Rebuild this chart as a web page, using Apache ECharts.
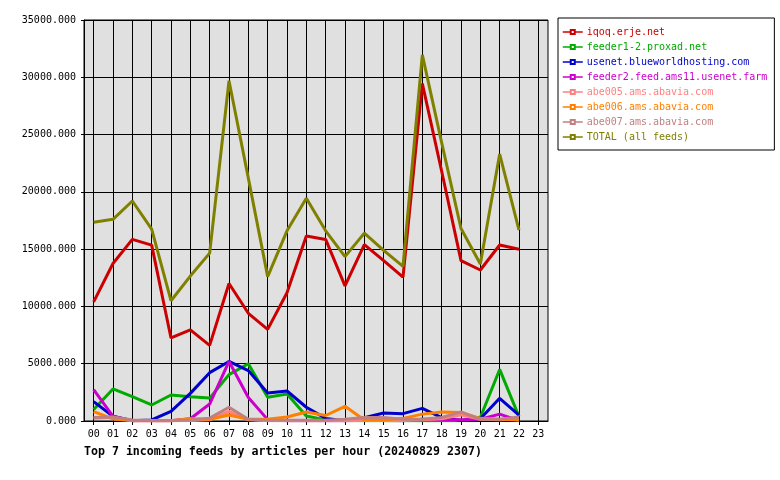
<!DOCTYPE html>
<html><head><meta charset="utf-8">
<script src="https://cdn.jsdelivr.net/npm/echarts@6/dist/echarts.min.js"></script>
<style>html,body{margin:0;padding:0;background:#fff}#c{width:780px;height:480px}</style>
</head><body><div id="c"></div>
<script>
const hours = ['00','01','02','03','04','05','06','07','08','09','10','11','12','13','14','15','16','17','18','19','20','21','22','23'];
const seriesNames = ['iqoq.erje.net','feeder1-2.proxad.net','usenet.blueworldhosting.com','feeder2.feed.ams11.usenet.farm','abe005.ams.abavia.com','abe006.ams.abavia.com','abe007.ams.abavia.com','TOTAL (all feeds)'];
const seriesColors = ['#cc0000','#00aa00','#0000cc','#cc00cc','#ff8080','#ff8000','#c08080','#808000'];
const iqoq = [10400,13750,15850,15350,7250,7950,6600,12000,9400,8000,11200,16150,15850,11800,15400,14000,12550,29450,21800,14000,13180,15360,14990];
const feeder1 = [1000,2800,2120,1400,2270,2120,2000,4050,5000,2065,2360,440,100,50,30,30,30,30,30,30,300,4500,380];
const usenetBlue = [1690,420,30,90,840,2410,4220,5200,4400,2450,2620,1200,230,30,290,700,640,1100,300,50,200,1980,520];
const feeder2 = [2730,400,30,20,20,200,1480,5200,2050,120,30,20,20,20,80,50,20,150,100,100,150,600,30];
const abe005 = [250,300,50,30,30,50,100,850,100,30,30,30,30,30,50,50,50,100,200,550,150,100,150];
const abe006 = [815,180,30,20,20,200,150,520,145,145,350,780,480,1280,90,90,230,600,790,750,230,145,90];
const abe007 = [300,350,90,50,50,80,250,1200,150,60,60,60,60,150,300,300,150,150,300,800,150,150,350];
const total = [17350,17600,19200,16750,10500,12650,14650,29700,21200,12600,16600,19450,16600,14350,16400,14900,13500,31950,24300,16800,13700,23300,16650];
const yTicks = [0,5000,10000,15000,20000,25000,30000,35000];
const titleText = 'Top 7 incoming feeds by articles per hour (20240829 2307)';

const allData = [iqoq, feeder1, usenetBlue, feeder2, abe005, abe006, abe007, total];
const FONT = 'DejaVu Sans Mono';

const chart = echarts.init(document.getElementById('c'), null, {renderer:'canvas'});
chart.setOption({
  animation: false,
  backgroundColor: '#ffffff',
  title: {
    text: titleText, left: 84, top: 446, padding: 0,
    textStyle: {fontFamily: FONT, fontSize: 11.6, fontWeight: 'bold', color: '#000'}
  },
  legend: {
    orient: 'vertical', left: 558, top: 18,
    padding: [9, 7, 8, 4],
    borderColor: '#000', borderWidth: 1, backgroundColor: '#fff',
    itemWidth: 20, itemHeight: 5, itemGap: 5,
    lineStyle: {width: 1.5},
    data: seriesNames.map((n, i) => ({name: n, textStyle: {color: seriesColors[i]}})),
    textStyle: {fontFamily: FONT, fontSize: 10, lineHeight: 10, padding: [0,0,0,-1]}
  },
  grid: {
    left: 84, right: 232, top: 20, bottom: 59,
    show: true, backgroundColor: '#e0e0e0', borderColor: '#000', borderWidth: 1
  },
  xAxis: {
    type: 'category', data: hours, boundaryGap: true,
    axisLine: {show: true, lineStyle: {color: '#000', width: 1}},
    axisTick: {show: true, alignWithLabel: true, length: 4, lineStyle: {color: '#000'}},
    splitLine: {show: true, alignWithLabel: true, lineStyle: {color: '#000', width: 1}},
    axisLabel: {fontFamily: FONT, fontSize: 10, color: '#000', margin: 8, interval: 0}
  },
  yAxis: {
    type: 'value', min: yTicks[0], max: yTicks[yTicks.length-1], interval: yTicks[1]-yTicks[0],
    axisLine: {show: true, lineStyle: {color: '#000'}},
    axisTick: {show: true, length: 3, lineStyle: {color: '#000'}},
    splitLine: {show: true, lineStyle: {color: '#000', width: 1}},
    axisLabel: {fontFamily: FONT, fontSize: 10, color: '#000', margin: 8, formatter: v => v.toFixed(3)}
  },
  series: seriesNames.map((n, i) => ({
    name: n, type: 'line', data: allData[i],
    symbol: 'emptyRect', symbolSize: 4, showSymbol: false,
    lineStyle: {color: seriesColors[i], width: 3},
    itemStyle: {color: seriesColors[i]},
    emphasis: {disabled: true}
  }))
});
</script></body></html>
